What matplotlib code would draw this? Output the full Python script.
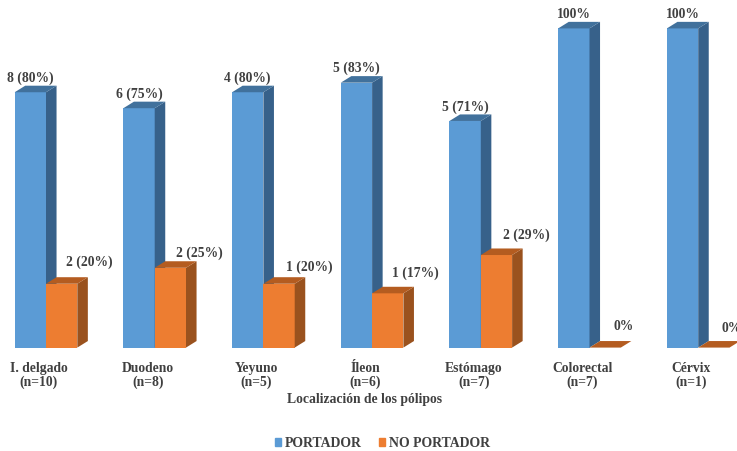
import matplotlib
matplotlib.use("Agg")
import matplotlib.pyplot as plt
from matplotlib.patches import Patch, Polygon

# Datos de la grafica
localizacion = ['I. delgado\n(n=10)', 'Duodeno\n(n=8)', 'Yeyuno\n(n=5)', 'Íleon\n(n=6)',
                'Estómago\n(n=7)', 'Colorectal\n(n=7)', 'Cérvix\n(n=1)']
portador = [80, 75, 80, 83, 71, 100, 100]
no_portador = [20, 25, 20, 17, 29, 0, 0]
etiq_portador = ['8 (80%)', '6 (75%)', '4 (80%)', '5 (83%)', '5 (71%)', '100%', '100%']
etiq_no_portador = ['2 (20%)', '2 (25%)', '1 (20%)', '1 (17%)', '2 (29%)', '0%', '0%']

# Separacion de las etiquetas naranjas respecto a su barra (px)
sep_x = [28, 29, 30, 28, 30, 18, 18]
sep_y = [21, 15, 16, 20, 20, 21, 19]

ancho = 0.288
prof_x = 0.097
prof_y = 2.05
texto = '#404040'
fuente = 'Liberation Serif'

fig = plt.figure(figsize=(7.37, 4.51), dpi=100)
ax = fig.add_axes([0, 0, 1, 1])
ax.set_xlim(-46 / 108.7, 691 / 108.7)
ax.set_ylim(-32.4, 108.9)
ax.axis('off')


def barra(x, v, frente, lado, tapa, z):
    ax.bar(x, v, ancho, align='edge', color=frente, zorder=z)
    ax.add_patch(Polygon([(x + ancho, 0), (x + ancho + prof_x, prof_y),
                          (x + ancho + prof_x, v + prof_y), (x + ancho, v)],
                         color=lado, lw=0, zorder=z))
    ax.add_patch(Polygon([(x, v), (x + prof_x, v + prof_y),
                          (x + ancho + prof_x, v + prof_y), (x + ancho, v)],
                         color=tapa, lw=0, zorder=z))


for i in range(len(localizacion)):
    barra(i - ancho, portador[i], '#5B9BD5', '#37618A', '#41719C', 2)
    barra(i, no_portador[i], '#ED7D31', '#9A521E', '#B45C20', 3)

    ax.annotate(etiq_portador[i], (i - ancho / 2, portador[i]), xytext=(0, 14 * 0.72),
                textcoords='offset points', ha='center', va='center', fontsize=9.8,
                fontweight='bold', family=fuente, color=texto, annotation_clip=False)
    ax.annotate(etiq_no_portador[i], (i + ancho / 2, no_portador[i]),
                xytext=(sep_x[i] * 0.72, sep_y[i] * 0.72), textcoords='offset points',
                ha='center', va='center', fontsize=9.8, fontweight='bold', family=fuente,
                color=texto, annotation_clip=False)
    ax.text(i - 0.065, -8.6, localizacion[i], ha='center', va='center', fontsize=9.8,
            fontweight='bold', family=fuente, color=texto, linespacing=1.05)

ax.text(2.93, -16.2, 'Localización de los pólipos', ha='center', va='center', fontsize=9.8,
        fontweight='bold', family=fuente, color=texto)

ax.legend(handles=[Patch(color='#5B9BD5', label='PORTADOR'), Patch(color='#ED7D31', label='NO PORTADOR')],
          loc='center', bbox_to_anchor=(382.5 / 737, 1 - 443.5 / 451), ncol=2, frameon=False,
          handlelength=0.45, handleheight=0.45, handletextpad=0.3, columnspacing=1.24,
          prop={'family': fuente, 'weight': 'bold', 'size': 9.9}, labelcolor=texto)

plt.savefig('out.png', dpi=100)
plt.close()
